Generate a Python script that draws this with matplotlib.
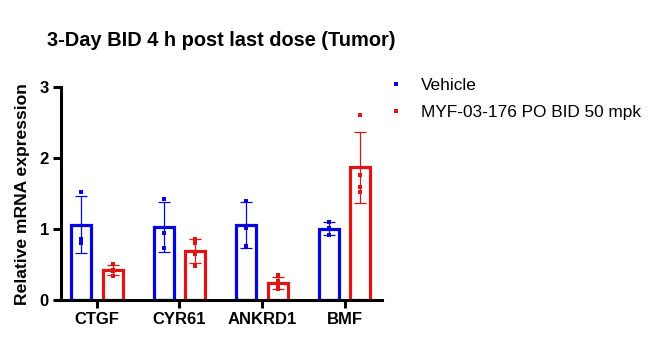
#!/usr/bin/env python3
# -*- coding: utf-8 -*-

import numpy as np
import matplotlib
matplotlib.use('Agg')
import matplotlib.pyplot as plt
from matplotlib.lines import Line2D

plt.rcParams['font.family'] = ['Liberation Sans', 'DejaVu Sans']

genes = ['CTGF', 'CYR61', 'ANKRD1', 'BMF']
groups = ['Vehicle', 'MYF-03-176 PO BID 50 mpk']
colors = ['#0505dc', '#e01414']

# individual animals
vehicle_pts = [
    [1.53, 0.86, 0.80],
    [1.42, 0.94, 0.74],
    [1.40, 1.02, 0.76],
    [1.10, 1.01, 0.91],
]
treated_pts = [
    [0.51, 0.42, 0.41, 0.34],
    [0.86, 0.80, 0.65, 0.48],
    [0.35, 0.27, 0.21, 0.15],
    [2.61, 1.76, 1.59, 1.53],
]

fig = plt.figure(figsize=(6.56, 3.54), dpi=100)
ax = fig.add_axes([0.093, 0.1525, 0.489, 0.601])

x = np.arange(len(genes))
offset = 0.19
width = 0.24

for k, pts in enumerate([vehicle_pts, treated_pts]):
    xs = x + (2 * k - 1) * offset
    means = [np.mean(p) for p in pts]
    sds = [np.std(p, ddof=1) for p in pts]
    ax.bar(xs, means, width=width, facecolor='white', edgecolor=colors[k],
           linewidth=2.3, zorder=2)
    ax.errorbar(xs, means, yerr=sds, fmt='none', ecolor=colors[k],
                elinewidth=0.9, capsize=4.2, capthick=0.9, zorder=3)
    for xi, p in zip(xs, pts):
        ax.plot([xi] * len(p), p, 's', color=colors[k], markersize=2.9,
                markeredgewidth=0, zorder=4)

ax.set_xlim(-0.435, 3.45)
ax.set_ylim(0, 3)
ax.set_yticks([0, 1, 2, 3])
ax.set_xticks(x)
ax.set_xticklabels(genes, fontweight='bold', fontsize=12)
ax.set_yticklabels(['0', '1', '2', '3'], fontweight='bold', fontsize=12)
ax.set_ylabel('Relative mRNA expression', fontweight='bold', fontsize=12.6,
              labelpad=7)

for s in ['top', 'right']:
    ax.spines[s].set_visible(False)
for s in ['left', 'bottom']:
    ax.spines[s].set_linewidth(2.2)
ax.tick_params(width=2.2, length=5.8, pad=3)

fig.text(0.338, 0.885, '3-Day BID 4 h post last dose (Tumor)',
         ha='center', va='center', fontsize=14.4, fontweight='bold')

handles = [Line2D([], [], linestyle='none', marker='s', markersize=2.9,
                  markeredgewidth=0, color=c) for c in colors]
fig.legend(handles, groups, loc='upper left', bbox_to_anchor=(0.59, 0.78),
           frameon=False, fontsize=12.4, handlelength=1.0, handletextpad=0.95,
           labelspacing=0.7, borderpad=0, borderaxespad=0)

plt.savefig('out.png', dpi=100)
